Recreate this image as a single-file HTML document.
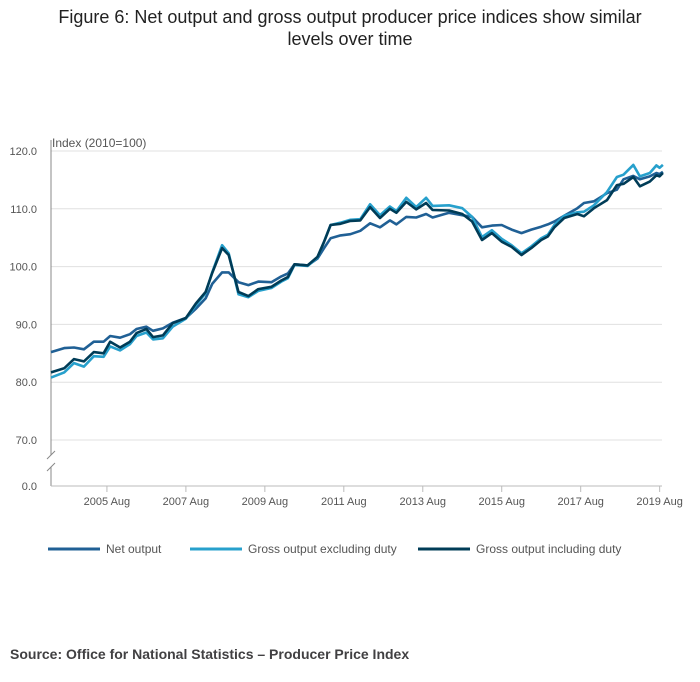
<!DOCTYPE html>
<html><head><meta charset="utf-8"><style>
body{margin:0;background:#fff;font-family:"Liberation Sans",sans-serif;}
#wrap{position:relative;width:700px;height:682px;overflow:hidden;}
#title{position:absolute;left:0;top:6px;width:700px;text-align:center;font-size:18px;line-height:22px;color:#222;}
#source{position:absolute;left:10px;top:646px;font-size:14px;font-weight:bold;color:#414042;}
</style></head><body>
<div id="wrap">
<div id="title">Figure 6: Net output and gross output producer price indices show similar<br>levels over time</div>
<svg id="chart" width="700" height="682" style="position:absolute;left:0;top:0"></svg>
<div id="source">Source: Office for National Statistics – Producer Price Index</div>
</div>
<script>
// month index from March 2004
const months = [0,4,7,10,13,16,18,21,24,26,29,31,34,37,41,44,47,49,52,54,57,60,63,67,70,72,74,78,81,83,85,88,91,94,97,100,103,105,108,111,114,116,121,125,128,131,134,137,140,143,146,149,151,153,156,160,162,165,169,172,174,177,179,182,184,185,186];
const netOutput = [85.2,85.9,86.0,85.7,87.0,87.0,88.0,87.7,88.3,89.2,89.6,88.9,89.3,90.3,91.1,92.7,94.5,97.0,99.0,99.0,97.3,96.8,97.4,97.3,98.3,98.8,100.4,100.2,101.4,103.2,104.9,105.4,105.6,106.2,107.5,106.8,108.0,107.3,108.6,108.5,109.1,108.5,109.3,108.9,108.6,106.8,107.1,107.2,106.4,105.8,106.4,106.9,107.3,107.8,108.8,110.1,111.0,111.3,112.7,113.3,115.1,115.7,115.1,115.6,116.2,116.0,116.4];
const grossExcl = [80.8,81.7,83.3,82.7,84.5,84.4,86.2,85.5,86.6,88.0,88.6,87.4,87.6,89.6,91.0,93.3,95.4,99.0,103.7,102.3,95.2,94.7,95.8,96.3,97.4,98.0,100.3,100.1,101.6,104.3,107.2,107.6,108.1,108.2,110.8,108.9,110.4,109.6,111.9,110.3,111.9,110.5,110.6,110.1,108.6,105.1,106.3,104.8,103.7,102.3,103.5,104.9,105.5,107.2,108.8,109.4,109.5,110.6,112.9,115.5,115.9,117.6,115.6,116.2,117.5,117.1,117.6];
const grossIncl = [81.7,82.4,84.0,83.6,85.2,85.0,87.0,86.0,87.0,88.5,89.2,87.8,88.1,90.2,91.1,93.6,95.6,98.9,103.2,102.0,95.6,94.9,96.1,96.5,97.6,98.2,100.4,100.2,101.7,104.3,107.2,107.4,107.9,108.0,110.3,108.4,110.0,109.3,111.2,109.9,111.0,109.8,109.7,109.1,107.8,104.6,105.8,104.3,103.4,102.0,103.2,104.6,105.2,106.8,108.4,109.1,108.7,110.1,111.5,114.1,114.3,115.5,113.9,114.7,115.8,115.6,116.2];
const yTicks = [0,70,80,90,100,110,120];
const yTickLabels = ["0.0","70.0","80.0","90.0","100.0","110.0","120.0"];
const xTickMonths = [17,41,65,89,113,137,161,185];
const xTickLabels = ["2005 Aug","2007 Aug","2009 Aug","2011 Aug","2013 Aug","2015 Aug","2017 Aug","2019 Aug"];

const NS="http://www.w3.org/2000/svg";
const svg=document.getElementById('chart');
const X0=51, X1=662, PXM=3.29;
function xs(m){return X0+m*PXM;}
function ys(v){ if(v<=0) return 486; return 151+(120-v)*5.78; }
function mk(tag,attrs){const e=document.createElementNS(NS,tag);for(const k in attrs)e.setAttribute(k,attrs[k]);svg.appendChild(e);return e;}

// grid + y labels
yTicks.forEach((v,i)=>{
  const y=ys(v);
  if(v>0){const g=mk('line',{x1:X0,x2:X1,y1:y,y2:y,stroke:'#e0e0e0','stroke-width':1});
  
  }
  const t=mk('text',{x:37,y:y+4,'text-anchor':'end','font-size':11,fill:'#555','font-family':'Liberation Sans, sans-serif'});
  t.textContent=yTickLabels[i];
  
  
});
const yt=mk('text',{x:52,y:147,'font-size':12,fill:'#555','font-family':'Liberation Sans, sans-serif'});
yt.textContent='Index (2010=100)';


// y axis with break
const ya1=mk('line',{x1:X0,x2:X0,y1:140,y2:455,stroke:'#888','stroke-width':1});


const ya2=mk('line',{x1:X0,x2:X0,y1:467,y2:486,stroke:'#888','stroke-width':1});


[[47,459,55,451],[47,471,55,463]].forEach(p=>{const b=mk('line',{x1:p[0],y1:p[1],x2:p[2],y2:p[3],stroke:'#888','stroke-width':1});

});
// x axis
const xa=mk('line',{x1:X0,x2:X1,y1:486,y2:486,stroke:'#bbb','stroke-width':1});


xTickMonths.forEach((m,i)=>{
  const x=xs(m);
  const tk=mk('line',{x1:x,x2:x,y1:486,y2:492,stroke:'#bbb','stroke-width':1});
  
  
  const t=mk('text',{x:x,y:505,'text-anchor':'middle','font-size':11,fill:'#555','font-family':'Liberation Sans, sans-serif'});
  t.textContent=xTickLabels[i];
  
  
});
// series
function line(vals,color,name){
  const d=vals.map((v,i)=>(i?'L':'M')+xs(months[i]).toFixed(1)+','+ys(v).toFixed(1)).join('');
  const p=mk('path',{d:d,fill:'none',stroke:color,'stroke-width':2.6,'stroke-linejoin':'round'});
  
  
}
line(netOutput,'#206095','net-output-line');
line(grossExcl,'#27a0cc','gross-output-excluding-duty-line');
line(grossIncl,'#003c57','gross-output-including-duty-line');
// legend
const legend=[['Net output','#206095',48],['Gross output excluding duty','#27a0cc',190],['Gross output including duty','#003c57',418]];
legend.forEach(l=>{
  const s=mk('line',{x1:l[2],x2:l[2]+52,y1:549,y2:549,stroke:l[1],'stroke-width':3});
  
  
  const t=mk('text',{x:l[2]+58,y:553,'font-size':12,fill:'#555','font-family':'Liberation Sans, sans-serif'});
  t.textContent=l[0];
  
  
});
</script>
</body></html>
